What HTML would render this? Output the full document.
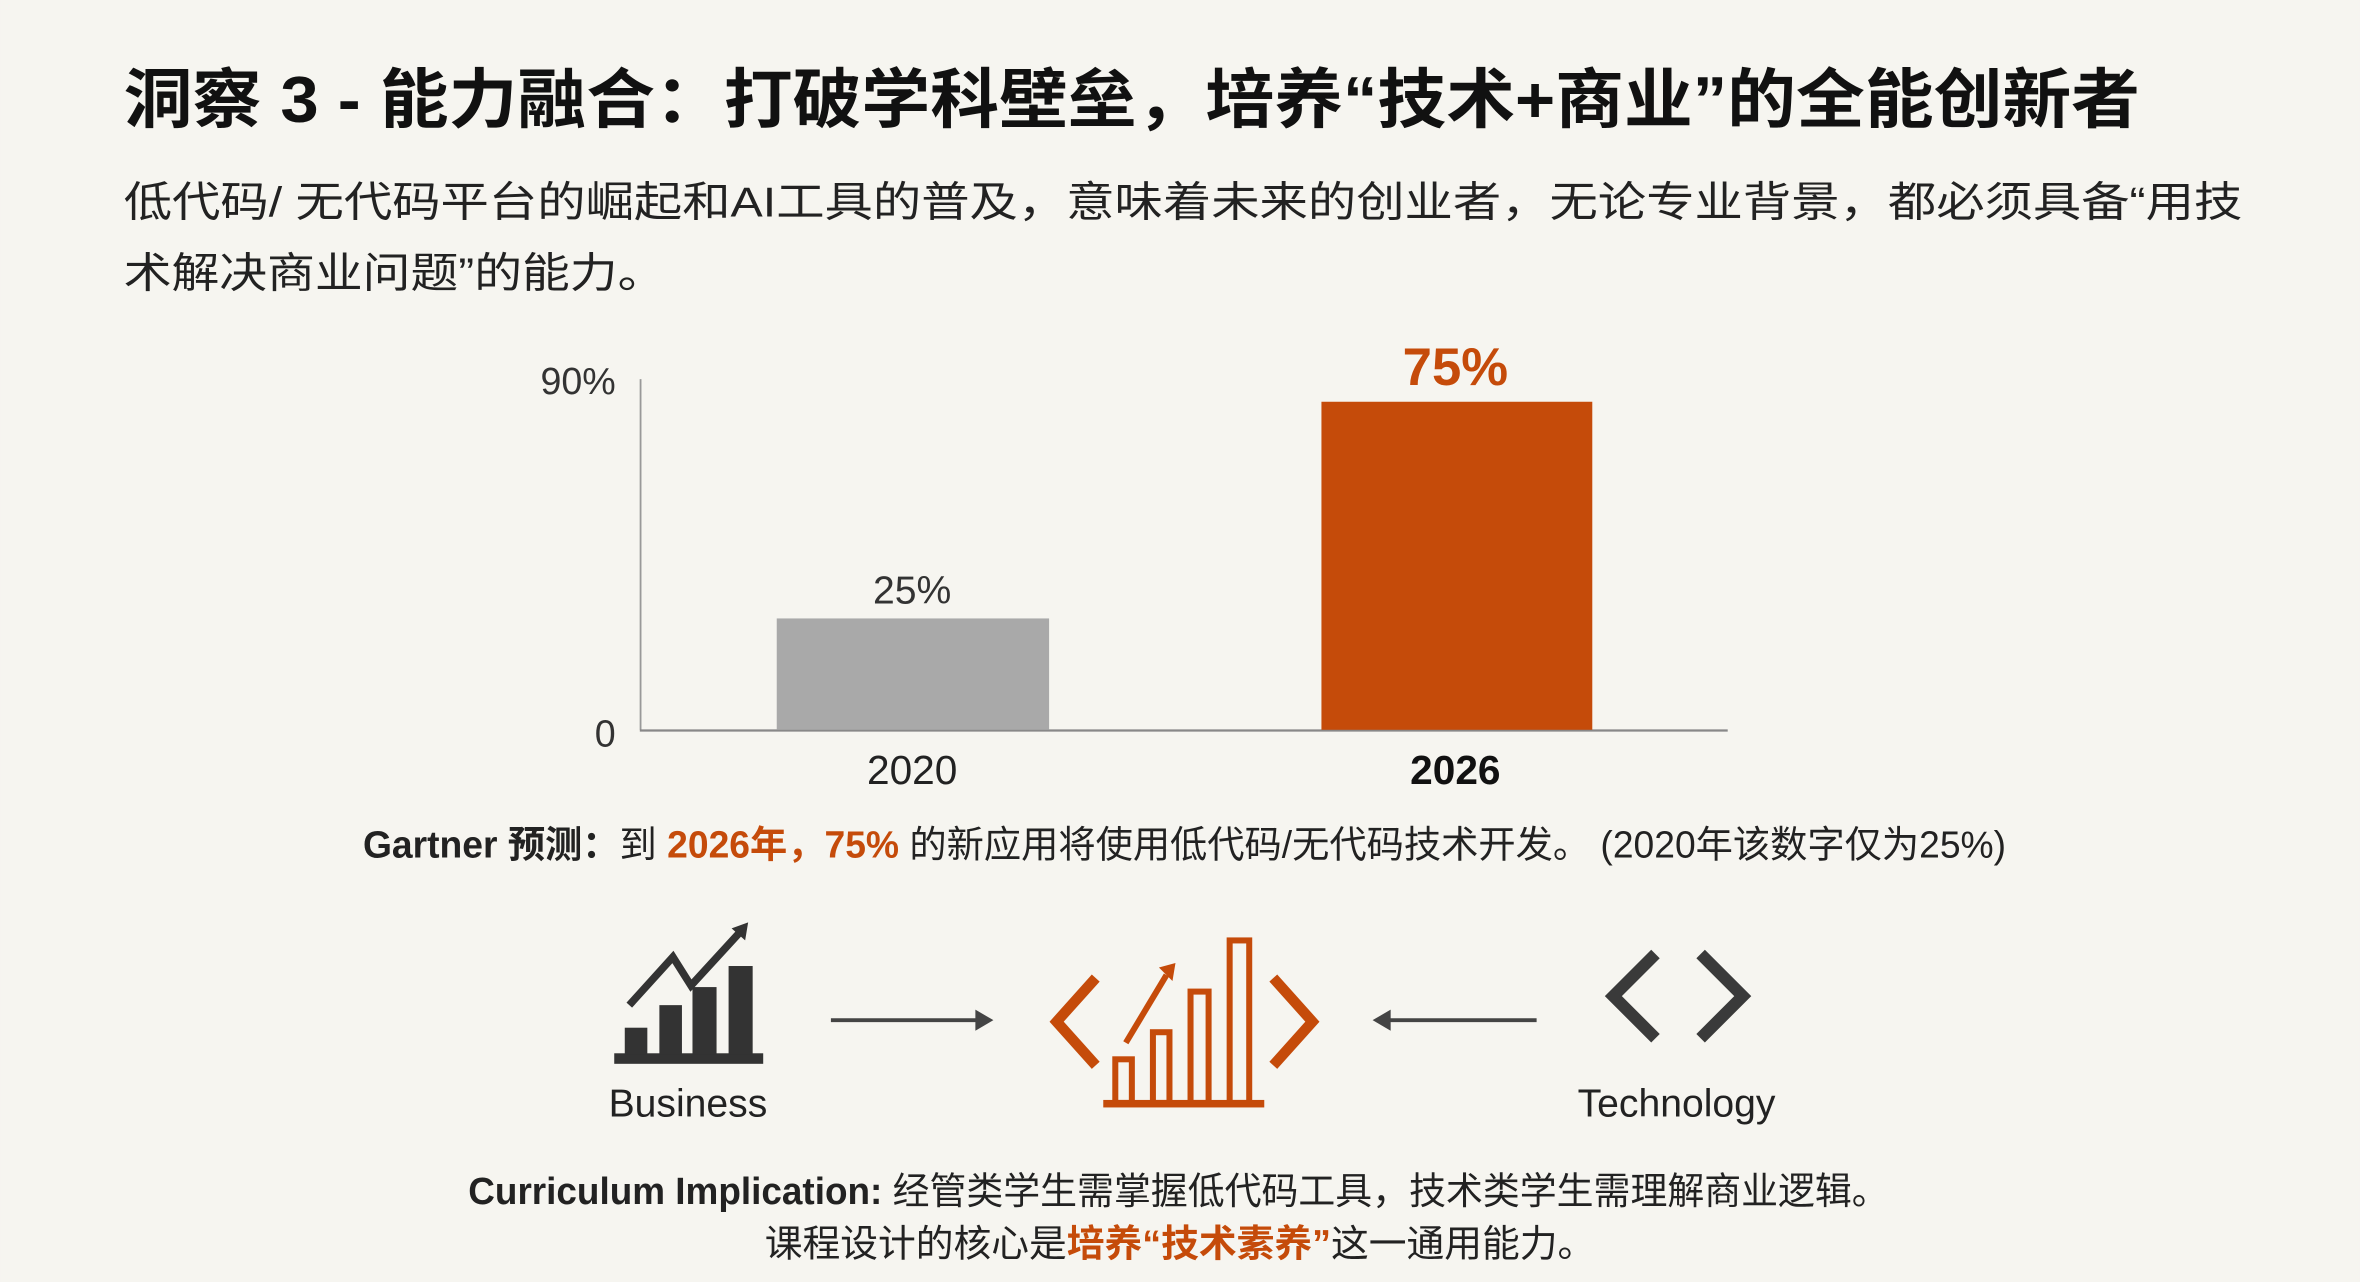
<!DOCTYPE html>
<html><head><meta charset="utf-8"><style>
html,body{margin:0;padding:0;background:#f6f5f0;}
svg{display:block;}
text{font-family:"Liberation Sans","Noto Sans CJK SC",sans-serif;}
</style></head><body>
<svg width="2360" height="1282" viewBox="0 0 1568 852" xmlns="http://www.w3.org/2000/svg">
<rect width="1568" height="852" fill="#f6f5f0"/>
<text x="82" y="81" font-size="43" font-weight="bold" fill="#111" textLength="1340" lengthAdjust="spacingAndGlyphs">洞察 3 - 能力融合：打破学科壁垒，培养“技术+商业”的全能创新者</text>
<text x="82" y="144" font-size="28" fill="#222" textLength="1408" lengthAdjust="spacingAndGlyphs">低代码/ 无代码平台的崛起和AI工具的普及，意味着未来的创业者，无论专业背景，都必须具备“用技</text>
<text x="82" y="191" font-size="28" fill="#222" textLength="360" lengthAdjust="spacingAndGlyphs">术解决商业问题”的能力。</text>

<!-- chart -->
<line x1="425.5" y1="252" x2="425.5" y2="485" stroke="#999" stroke-width="1.2"/>
<line x1="425" y1="485.5" x2="1148" y2="485.5" stroke="#888" stroke-width="1.5"/>
<text x="409" y="262" font-size="25" fill="#333" text-anchor="end">90%</text>
<text x="409" y="496" font-size="25" fill="#333" text-anchor="end">0</text>
<rect x="516" y="411" width="181" height="74" fill="#a9a9a9"/>
<rect x="878" y="267" width="180" height="218" fill="#c54b0a"/>
<text x="606" y="401" font-size="26" fill="#333" text-anchor="middle">25%</text>
<text x="967" y="256" font-size="35" font-weight="bold" fill="#c54b0a" text-anchor="middle">75%</text>
<text x="606" y="521" font-size="27" fill="#222" text-anchor="middle">2020</text>
<text x="967" y="521" font-size="27" font-weight="bold" fill="#111" text-anchor="middle">2026</text>

<text x="241" y="570" font-size="25" fill="#222" textLength="1092" lengthAdjust="spacingAndGlyphs"><tspan font-weight="bold">Gartner 预测：</tspan>到 <tspan font-weight="bold" fill="#c54b0a">2026年，75%</tspan> 的新应用将使用低代码/无代码技术开发。 (2020年该数字仅为25%)</text>

<!-- business icon -->
<g fill="#333">
<rect x="408" y="700" width="99" height="7"/>
<rect x="415" y="683" width="15" height="18"/>
<rect x="438" y="668" width="15" height="33"/>
<rect x="460" y="656" width="16" height="45"/>
<rect x="484" y="642" width="16" height="59"/>
<polygon points="486,617 497,613 495,625"/>
</g>
<polyline points="418,668 447,636 459,655 492,619" fill="none" stroke="#333" stroke-width="5"/>
<text x="457" y="742" font-size="26" fill="#222" text-anchor="middle">Business</text>

<!-- arrows -->
<line x1="552" y1="678" x2="652" y2="678" stroke="#444" stroke-width="2.5"/>
<polygon points="660,678 648,671 648,685" fill="#444"/>
<line x1="920" y1="678" x2="1021" y2="678" stroke="#444" stroke-width="2.5"/>
<polygon points="912,678 924,671 924,685" fill="#444"/>

<!-- center icon -->
<g stroke="#c54b0a" fill="none" stroke-width="4">
<rect x="741" y="704" width="11" height="29"/>
<rect x="766" y="686" width="11" height="47"/>
<rect x="791" y="659" width="12" height="74"/>
<rect x="817" y="625" width="13" height="108"/>
<polyline points="728,650 702,679 728,708" stroke-width="7"/>
<polyline points="846,650 872,679 846,708" stroke-width="7"/>
<line x1="748" y1="693" x2="775" y2="648"/>
</g>
<rect x="733" y="731" width="107" height="5" fill="#c54b0a"/>
<polygon points="770,643 781,640 779,652" fill="#c54b0a"/>

<!-- code icon -->
<g stroke="#3a3a3a" fill="none" stroke-width="8" stroke-linecap="butt">
<polyline points="1100,634 1072,662 1100,690"/>
<polyline points="1130,634 1158,662 1130,690"/>
</g>
<text x="1114" y="742" font-size="26" fill="#222" text-anchor="middle">Technology</text>

<text x="311" y="800" font-size="25" fill="#222" textLength="944" lengthAdjust="spacingAndGlyphs"><tspan font-weight="bold">Curriculum Implication:</tspan> 经管类学生需掌握低代码工具，技术类学生需理解商业逻辑。</text>
<text x="508" y="835" font-size="25" fill="#222" textLength="552" lengthAdjust="spacingAndGlyphs">课程设计的核心是<tspan font-weight="bold" fill="#c54b0a">培养“技术素养”</tspan>这一通用能力。</text>
</svg>
</body></html>
